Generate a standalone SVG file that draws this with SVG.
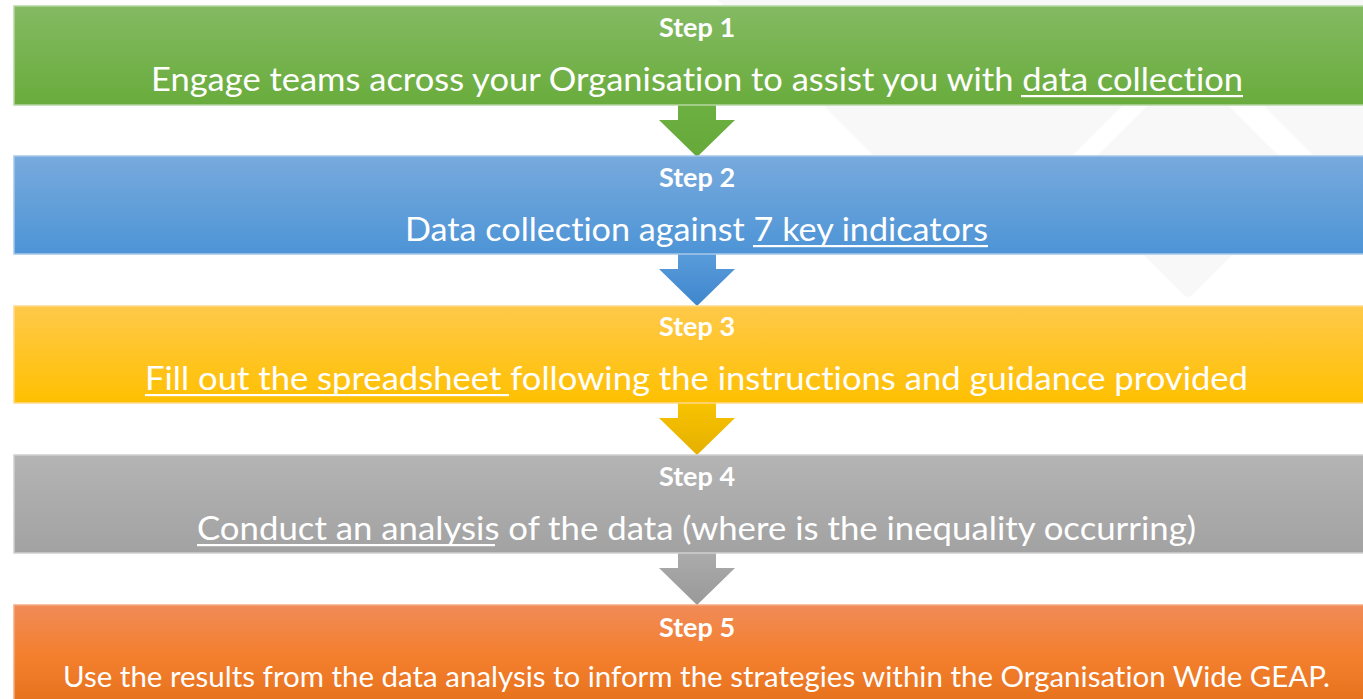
<svg xmlns="http://www.w3.org/2000/svg" width="1363" height="699" viewBox="0 0 1363 699">
  <defs>
    <linearGradient id="gGreen" x1="0" y1="0" x2="0" y2="1">
      <stop offset="0" stop-color="#84ba63"/>
      <stop offset="1" stop-color="#69ac3c"/>
    </linearGradient>
    <linearGradient id="gBlue" x1="0" y1="0" x2="0" y2="1">
      <stop offset="0" stop-color="#78aadd"/>
      <stop offset="1" stop-color="#4d94d6"/>
    </linearGradient>
    <linearGradient id="gGold" x1="0" y1="0" x2="0" y2="1">
      <stop offset="0" stop-color="#ffc94a"/>
      <stop offset="1" stop-color="#ffc000"/>
    </linearGradient>
    <linearGradient id="gGray" x1="0" y1="0" x2="0" y2="1">
      <stop offset="0" stop-color="#b4b4b4"/>
      <stop offset="1" stop-color="#a2a2a2"/>
    </linearGradient>
    <linearGradient id="gOrange" x1="0" y1="0" x2="0" y2="1">
      <stop offset="0" stop-color="#f08b58"/>
      <stop offset="0.5" stop-color="#f47f2e"/>
      <stop offset="1" stop-color="#e6711c"/>
    </linearGradient>
    <linearGradient id="aGreen" x1="0" y1="0" x2="0" y2="1">
      <stop offset="0" stop-color="#6db042"/>
      <stop offset="1" stop-color="#66a83a"/>
    </linearGradient>
    <linearGradient id="aBlue" x1="0" y1="0" x2="0" y2="1">
      <stop offset="0" stop-color="#5a9cdb"/>
      <stop offset="1" stop-color="#3f86cd"/>
    </linearGradient>
    <linearGradient id="aGold" x1="0" y1="0" x2="0" y2="1">
      <stop offset="0" stop-color="#f8c300"/>
      <stop offset="1" stop-color="#e5b000"/>
    </linearGradient>
    <linearGradient id="aGray" x1="0" y1="0" x2="0" y2="1">
      <stop offset="0" stop-color="#ababab"/>
      <stop offset="1" stop-color="#999999"/>
    </linearGradient>
    <!-- downward block arrow, local origin at top-centre of the shaft -->
    <path id="downArrow" d="M-19 0 H19 V15 H38 L0 52 L-38 15 H-19 Z"/>
  </defs>
  <style>
    .bar { stroke-width: 1.5; }
    text { font-variant-ligatures: none; }
    .step { font-family: Lato, "Open Sans", sans-serif; font-weight: bold; font-size: 27px; fill: #ffffff; text-anchor: middle; }
    .desc { font-family: Lato, "Open Sans", sans-serif; font-size: 33px; fill: #ffffff; }
    .desc.small { font-size: 28px; }
    .ul { fill: #ffffff; }
    .mark { fill: #f8f8f8; }
  </style>

  <rect width="1363" height="699" fill="#ffffff"/>

  <!-- faint diamond watermark behind the steps -->
  <g id="watermark">
    <polygon class="mark" points="718,0 1228,0 973,255"/>
    <polygon class="mark" points="1188,72 1298,182 1188,292 1078,182" stroke="#f8f8f8" stroke-width="10" stroke-linejoin="round"/>
    <polygon class="mark" points="1158,0 1400,0 1400,242"/>
  </g>

  <!-- connectors between the steps -->
  <g id="connectors">
    <use href="#downArrow" x="697" y="105" fill="url(#aGreen)"/>
    <use href="#downArrow" x="697" y="254" fill="url(#aBlue)"/>
    <use href="#downArrow" x="697" y="403" fill="url(#aGold)"/>
    <use href="#downArrow" x="697" y="553" fill="url(#aGray)"/>
  </g>

  <g id="step1">
    <rect class="bar" x="14" y="6" width="1360" height="99" fill="url(#gGreen)" stroke="#b6d6a2"/>
    <text class="step" x="697" y="37">Step 1</text>
    <text class="desc" x="151" y="91" textLength="1092" lengthAdjust="spacingAndGlyphs">Engage teams across your Organisation to assist you with data collection</text>
    <rect class="ul" x="1021" y="95" width="222" height="2.2"/>
  </g>

  <g id="step2">
    <rect class="bar" x="14" y="156" width="1360" height="98" fill="url(#gBlue)" stroke="#a7c8ea"/>
    <text class="step" x="697" y="187">Step 2</text>
    <text class="desc" x="405" y="241" textLength="583" lengthAdjust="spacingAndGlyphs">Data collection against 7 key indicators</text>
    <rect class="ul" x="753" y="245" width="235" height="2.2"/>
  </g>

  <g id="step3">
    <rect class="bar" x="14" y="306" width="1360" height="97" fill="url(#gGold)" stroke="#ffd98a"/>
    <text class="step" x="697" y="336">Step 3</text>
    <text class="desc" x="145" y="390" textLength="1103" lengthAdjust="spacingAndGlyphs">Fill out the spreadsheet following the instructions and guidance provided</text>
    <rect class="ul" x="145" y="394" width="364" height="2.2"/>
  </g>

  <g id="step4">
    <rect class="bar" x="14" y="455" width="1360" height="98" fill="url(#gGray)" stroke="#cfcfcf"/>
    <text class="step" x="697" y="486">Step 4</text>
    <text class="desc" x="197" y="540" textLength="999" lengthAdjust="spacingAndGlyphs">Conduct an analysis of the data (where is the inequality occurring)</text>
    <rect class="ul" x="197" y="544" width="298" height="2.2"/>
  </g>

  <g id="step5">
    <rect class="bar" x="14" y="605" width="1360" height="100" fill="url(#gOrange)" stroke="#f5aa80"/>
    <text class="step" x="697" y="637">Step 5</text>
    <text class="desc small" x="63" y="687" textLength="1267" lengthAdjust="spacingAndGlyphs">Use the results from the data analysis to inform the strategies within the Organisation Wide GEAP.</text>
  </g>
</svg>
